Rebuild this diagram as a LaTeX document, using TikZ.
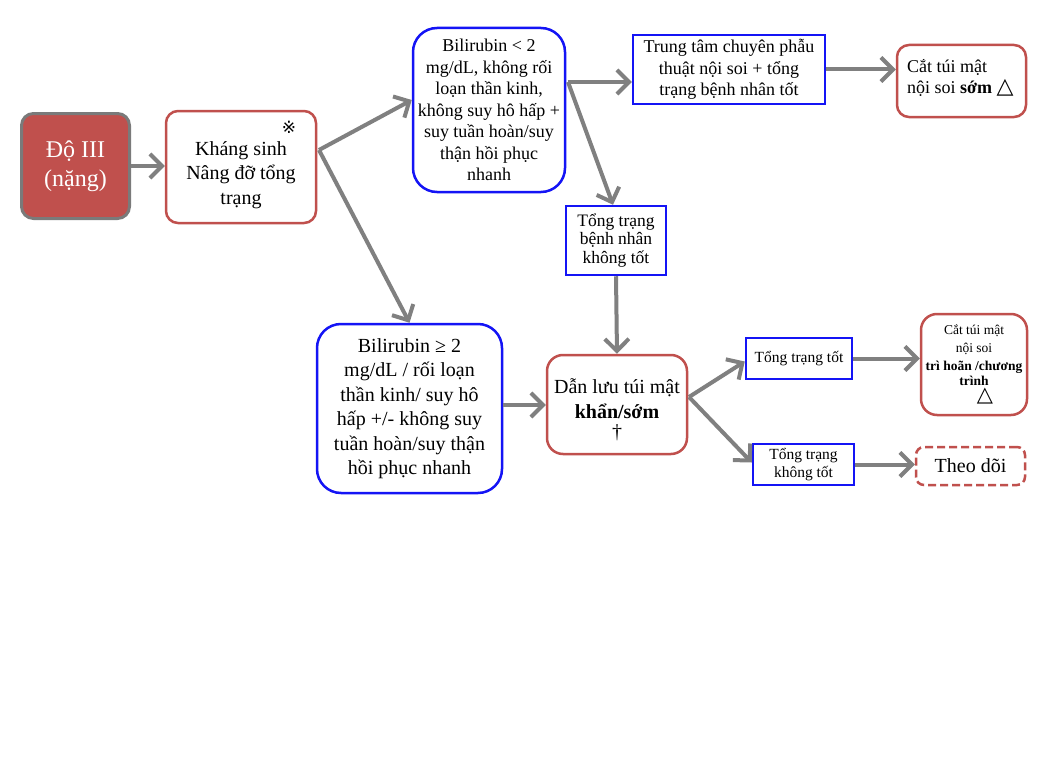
\documentclass[tikz,border=0pt]{standalone}
\usepackage{fontspec}
\setmainfont{Liberation Serif}
\newfontfamily\symfont{DejaVu Sans}
\usetikzlibrary{arrows.meta,calc}
\definecolor{accred}{HTML}{C0504D}
\definecolor{arrgray}{HTML}{808080}
\definecolor{bborder}{HTML}{1414F5}
\definecolor{dgray}{HTML}{7A7A7A}
\begin{document}
\begin{tikzpicture}[x=1pt,y=-1pt,
  redbox/.style={draw=accred, line width=2.5pt, rounded corners=12pt, fill=white, inner sep=0pt},
  bluebox/.style={draw=bborder, line width=2.5pt, fill=white, inner sep=0pt},
  blueround/.style={draw=bborder, line width=2.5pt, fill=white, inner sep=0pt, rounded corners=24pt},
  txt/.style={align=center, inner sep=0pt},
  arr/.style={draw=arrgray, line width=4pt, -{Straight Barb[length=12pt,width=24pt]}},
  f24/.style={font=\fontsize{24}{29}\selectfont},
  f20/.style={font=\fontsize{20}{24.5}\selectfont},
  f18/.style={font=\fontsize{18}{21.5}\selectfont},
  f17/.style={font=\fontsize{17.5}{18.5}\selectfont},
  f15/.style={font=\fontsize{15.5}{18}\selectfont},
  f13/.style={font=\fontsize{13.5}{18}\selectfont}]
\useasboundingbox (0,0) rectangle (1047,768);
\fill[white] (0,0) rectangle (1047,768);

% nodes
\node[draw=dgray, fill=accred, line width=3pt, rounded corners=12pt, minimum width=108pt, minimum height=105pt, text=white, f24, align=center, inner sep=0pt] (do) at (75.5,166) {Độ III\\(nặng)};

\node[redbox, minimum width=150pt, minimum height=112pt] (ks) at (241,167) {};
\node[txt, f20] (kst) at (241,175) {Kháng sinh\\Nâng đỡ tổng\\trạng};
\node[inner sep=0pt, font=\symfont\fontsize{17}{17}\selectfont] (ksm) at (289,127) {※};

\node[blueround, minimum width=152pt, minimum height=164pt, f18, align=center] (b1) at (489,110) {Bilirubin < 2\\mg/dL, không rối\\loạn thần kinh,\\không suy hô hấp +\\suy tuần hoàn/suy\\thận hồi phục\\nhanh};

\node[bluebox, minimum width=192pt, minimum height=69pt, f18, align=center] (tt) at (729,69.5) {Trung tâm chuyên phẫu\\thuật nội soi + tổng\\trạng bệnh nhân tốt};

\node[redbox, minimum width=129pt, minimum height=72pt] (c1) at (961.5,81) {};
\node[txt, f18, align=left, anchor=west] (c1t) at (907,78) {Cắt túi mật\\nội soi \textbf{sớm} {\symfont\bfseries\fontsize{22}{22}\selectfont △}};

\node[bluebox, minimum width=100pt, minimum height=69pt, f17, align=center] (tb) at (616,240.5) {Tổng trạng\\bệnh nhân\\không tốt};

\node[blueround, minimum width=185pt, minimum height=169pt, f20, align=center] (b2) at (409.5,408.5) {Bilirubin ≥ 2\\mg/dL / rối loạn\\thần kinh/ suy hô\\hấp +/- không suy\\tuần hoàn/suy thận\\hồi phục nhanh};

\node[redbox, rounded corners=16pt, minimum width=140pt, minimum height=99pt] (dl) at (617,404.5) {};
\node[txt, f20] (dlt) at (617,410) {Dẫn lưu túi mật\\\textbf{khẩn/sớm}\\[-4pt]†};

\node[bluebox, minimum width=106pt, minimum height=41pt, f15, align=center] (tg) at (799,358.5) {Tổng trạng tốt};

\node[redbox, rounded corners=16pt, minimum width=106pt, minimum height=101pt] (c2) at (974,364.5) {};
\node[txt, f13] (c2t) at (974,355) {Cắt túi mật\\nội soi\\\textbf{trì hoãn /chương}\\[-3pt]\textbf{trình}};
\node[inner sep=0pt, font=\symfont\bfseries\fontsize{21}{21}\selectfont] (c2m) at (985,396) {△};

\node[bluebox, minimum width=101pt, minimum height=41pt, f15, align=center] (tk) at (803.5,464.5) {Tổng trạng\\không tốt};

\node[draw=accred, dashed, dash pattern=on 8pt off 4pt, line width=2.5pt, rounded corners=8pt, minimum width=109pt, minimum height=38pt, f20, inner sep=0pt] (td) at (970.5,466) {Theo dõi};

% connectors
\coordinate (ksout) at (319,150);
\coordinate (b1out) at (568,82);
\coordinate (dlout) at (689,397);
\draw[arr] (do.east) -- (do.east -| ks.west);
\draw[arr] (ksout) -- ([yshift=10pt]b1.west);
\draw[arr] (ksout) -- (b2.north);
\draw[arr] (b1out) -- (b1out -| tt.west);
\draw[arr] (b1out) -- ([xshift=-3pt]tb.north);
\draw[arr] (tt.east) -- (tt.east -| c1.west);
\draw[arr] (tb.south) -- (dl.north);
\draw[arr] (b2.east |- 0,405) -- (dl.west |- 0,405);
\draw[arr] (dlout) -- ([yshift=-3pt]tg.west);
\draw[arr] (dlout) -- ([yshift=2pt]tk.west);
\draw[arr] (tg.east) -- (tg.east -| c2.west);
\draw[arr] (tk.east) -- (tk.east -| td.west);
\end{tikzpicture}
\end{document}
